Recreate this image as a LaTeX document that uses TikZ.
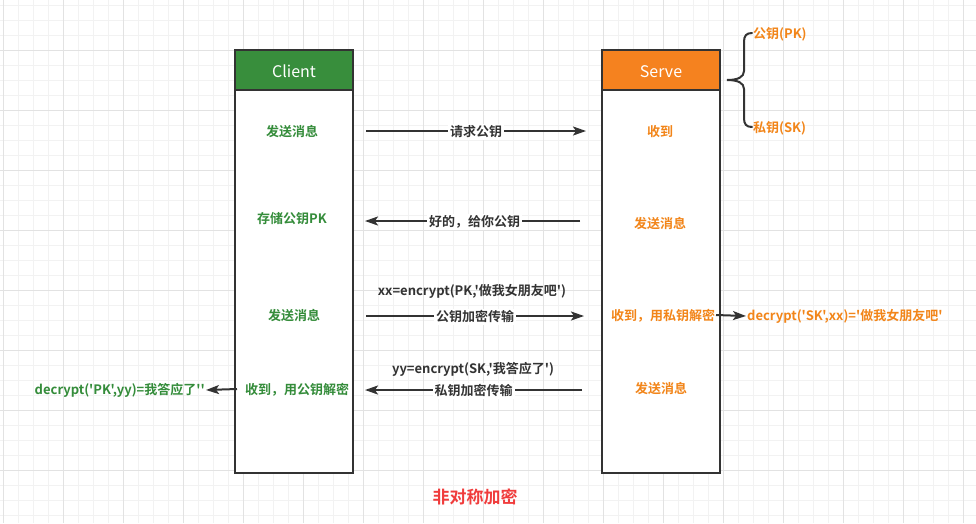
\documentclass[tikz,border=0pt]{standalone}
\usepackage{fontspec}
\newfontfamily\cjk{Noto Sans CJK SC}[BoldFont={Noto Sans CJK SC Bold}]
\usetikzlibrary{arrows.meta}
\definecolor{hgreen}{RGB}{56,142,60}
\definecolor{horange}{RGB}{245,130,31}
\definecolor{tgreen}{RGB}{52,140,58}
\definecolor{torange}{RGB}{242,133,25}
\definecolor{dark}{RGB}{51,51,51}
\definecolor{tred}{RGB}{240,60,60}
\definecolor{gminor}{RGB}{242,242,242}
\definecolor{gmajor}{RGB}{226,226,226}
\tikzset{
  header/.style={draw=dark, line width=2pt, minimum width=118pt, minimum height=40pt, inner sep=0pt, text=white, font=\cjk\fontsize{16}{18}\selectfont},
  hlabel/.style={text=white, font=\cjk\fontsize{16}{18}\selectfont, inner sep=0pt},
  lane/.style={draw=dark, line width=2pt, minimum width=118pt, minimum height=383pt, inner sep=0pt},
  gtxt/.style={text=tgreen, font=\cjk\bfseries\fontsize{13}{15}\selectfont, inner sep=1pt, yshift=-1pt},
  otxt/.style={text=torange, font=\cjk\bfseries\fontsize{13}{15}\selectfont, inner sep=1pt, yshift=-1pt},
  ktxt/.style={text=dark, font=\cjk\bfseries\fontsize{13}{15}\selectfont, inner sep=1pt, yshift=-1pt},
  msg/.style={draw=dark, line width=2pt, -{Stealth[length=13pt,width=9pt,inset=3pt]}},
  lbl/.style={ktxt, fill=white, inner sep=2pt}
}
\begin{document}
\begin{tikzpicture}[x=1pt,y=-1pt]
\useasboundingbox (0,0) rectangle (976,523);
\fill[white] (0,0) rectangle (976,523);
% grid
\foreach \i in {0,...,65} {\draw[gminor, line width=1pt] (3+15*\i,0) -- (3+15*\i,523);}
\foreach \i in {0,...,35} {\draw[gminor, line width=1pt] (0,5+15*\i) -- (976,5+15*\i);}
\foreach \i in {0,...,16} {\draw[gmajor, line width=1pt] (3+60*\i,0) -- (3+60*\i,523);}
\foreach \i in {0,...,8} {\draw[gmajor, line width=1pt] (0,-10+60*\i) -- (976,-10+60*\i);}
% lanes
\node[lane, fill=white] (clane) at (294,281.5) {};
\node[header, fill=hgreen] (chead) at (294,70) {};
\node[hlabel] (chl) at (294,71.5) {Client};
\node[lane, fill=white] (slane) at (661,281.5) {};
\node[header, fill=horange] (shead) at (661,70) {};
\node[hlabel] (shl) at (661,71.5) {Serve};
% client texts
\node[gtxt] (c1) at (292,131) {发送消息};
\node[gtxt] (c2) at (292,218) {存储公钥PK};
\node[gtxt] (c3) at (294,315) {发送消息};
\node[gtxt] (c4) at (297,389) {收到，用公钥解密};
% server texts
\node[otxt] (s1) at (660,131) {收到};
\node[otxt] (s2) at (660,223) {发送消息};
\node[otxt] (s3) at (663,315) {收到，用私钥解密};
\node[otxt] (s4) at (661,388) {发送消息};
% arrow endpoints
\coordinate (a1s) at (366,131); \coordinate (a1e) at (586,131);
\coordinate (a2s) at (580,221); \coordinate (a2e) at (365,221);
\coordinate (a3s) at (366,316); \coordinate (a3e) at (584,316);
\coordinate (a4s) at (582,390); \coordinate (a4e) at (365,390);
\draw[msg] (a1s) -- (a1e) node[lbl, midway] {请求公钥};
\draw[msg] (a2s) -- (a2e) node[lbl, pos=0.49] {好的，给你公钥};
\draw[msg] (a3s) -- (a3e) node[lbl, midway] {公钥加密传输};
\draw[msg] (a4s) -- (a4e) node[lbl, midway] {私钥加密传输};
\node[ktxt] (e1) at (472,290) {xx=encrypt(PK,'做我女朋友吧')};
\node[ktxt] (e2) at (473,368) {yy=encrypt(SK,'我答应了')};
% side results
\node[otxt, anchor=west] (r1) at (746,315) {decrypt('SK',xx)='做我女朋友吧'};
\coordinate (r1s) at (716,315);
\draw[msg] (r1s) -- (r1.west);
\node[gtxt, anchor=east] (r2) at (206,389) {decrypt('PK',yy)=我答应了''};
\coordinate (r2s) at (237,389);
\draw[msg] (r2s) -- (r2.east);
% brace
\draw[dark, line width=2pt, line cap=round]
  (752,33) .. controls (746,33) and (744,36) .. (744,42) -- (744,71)
  .. controls (744,77) and (738,80) .. (727,80)
  .. controls (738,80) and (744,83) .. (744,89) -- (744,118)
  .. controls (744,124) and (746,127) .. (752,127);
\node[otxt, anchor=west] (pk) at (752,33) {公钥(PK)};
\node[otxt, anchor=west] (sk) at (752,127) {私钥(SK)};
% title
\node[text=tred, font=\cjk\bfseries\fontsize{17}{19}\selectfont] (title) at (475,497) {非对称加密};
\end{tikzpicture}
\end{document}
